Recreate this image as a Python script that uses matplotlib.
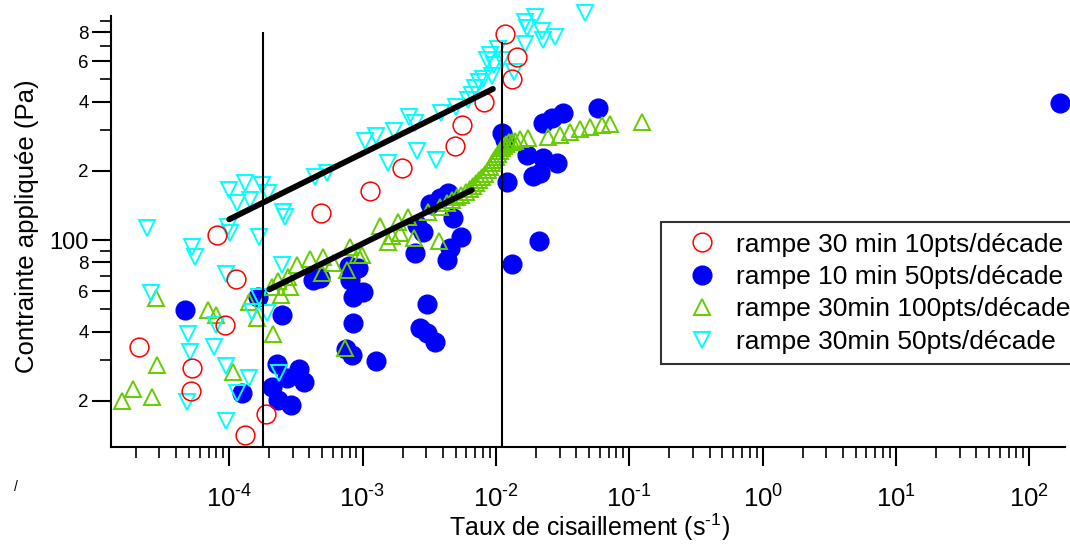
import numpy as np
import matplotlib
matplotlib.use('Agg')
import matplotlib.pyplot as plt
from matplotlib.ticker import (FixedLocator, FixedFormatter, LogLocator,
                               NullFormatter, FuncFormatter)

plt.rcParams['font.family'] = ['Liberation Sans', 'DejaVu Sans']
plt.rcParams['mathtext.fontset'] = 'custom'
plt.rcParams['mathtext.rm'] = 'Liberation Sans'
plt.rcParams['mathtext.it'] = 'Liberation Sans:italic'
plt.rcParams['mathtext.bf'] = 'Liberation Sans:bold'

# rampe 30 min 10pts/décade
red_x = [2.1e-5, 5.3e-5, 5.2e-5, 8.1e-5, 1.13e-4, 9.3e-5, 1.89e-4, 1.32e-4, 4.9e-4,
         1.14e-3, 1.98e-3, 4.94e-3, 5.58e-3, 8.2e-3, 1.17e-2, 1.44e-2, 1.32e-2]
red_y = [34.3, 27.8, 22.0, 105, 67.7, 42.7, 17.5, 14.2, 131,
         163, 206, 256, 316, 398, 787, 625, 501]

# rampe 10 min 50pts/décade
blue_x = [4.7e-5, 1.25e-4, 1.65e-4, 2.5e-4, 2.29e-4, 2.1e-4, 2.33e-4, 2.92e-4, 3.35e-4,
          3.65e-4, 2.72e-4, 4.26e-4, 4.81e-4, 8.07e-4, 8.51e-4, 8.51e-4, 7.54e-4, 8.36e-4,
          9.27e-4, 1.01e-3, 1.26e-3, 3.05e-3, 2.7e-3, 3.05e-3, 3.5e-3, 2.48e-3, 2.85e-3,
          2.57e-3, 4.78e-3, 5.48e-3, 4.54e-3, 4.31e-3, 3.21e-3, 3.82e-3, 4.38e-3, 1.11e-2,
          1.17e-2, 1.21e-2, 1.71e-2, 1.9e-2, 2.26e-2, 2.88e-2, 2.14e-2, 2.26e-2, 2.64e-2,
          3.19e-2, 5.83e-2, 2.11e-2, 1.32e-2, 1.7e2, 7.9e-4]
blue_y = [49.6, 21.6, 56.5, 47.2, 28.9, 23.0, 20.2, 19.2, 27.5,
          24.1, 25.1, 67.0, 68.4, 67.0, 56.5, 43.6, 33.6, 31.6,
          75.6, 59.4, 29.8, 52.7, 41.4, 39.4, 36.0, 87.8, 108,
          116, 125, 103, 92.3, 81.9, 143, 152, 160, 292,
          272, 179, 234, 190, 227, 216, 196, 323, 339,
          357, 375, 99, 78.7, 394, 77.1]

# rampe 30min 100pts/décade
green_x = [1.58e-5, 1.91e-5, 2.65e-5, 2.88e-5, 2.84e-5, 6.96e-5, 8.0e-5, 1.07e-4, 1.41e-4,
           1.62e-4, 2.14e-4, 2.1e-4, 2.45e-4, 2.33e-4, 2.77e-4, 3.23e-4, 2.87e-4, 4.05e-4,
           5.07e-4, 6.02e-4, 4.98e-4, 7.67e-4, 8.07e-4, 9.27e-4, 9.93e-4, 7.41e-4,
           1.36e-3, 1.56e-3, 1.67e-3, 1.85e-3, 2.2e-3, 1.91e-3, 2.44e-3, 3.75e-3, 3.1e-3,
           3.82e-3, 4.31e-3, 4.7e-3, 5.12e-3, 5.48e-3, 5.98e-3, 6.41e-3, 6.75e-3, 7.11e-3,
           7.48e-3, 7.88e-3, 8.3e-3, 8.74e-3, 9.05e-3, 9.37e-3, 9.7e-3, 1.0e-2, 1.04e-2,
           1.07e-2, 1.11e-2, 1.15e-2, 1.19e-2, 1.26e-2, 1.32e-2, 1.39e-2,
           1.52e-2, 1.74e-2, 2.46e-2, 3.03e-2, 3.6e-2, 4.28e-2, 5.08e-2, 6.25e-2, 7.18e-2,
           1.25e-1]
green_y = [20.0, 22.5, 20.8, 28.6, 56.0, 49.6, 47.2, 26.7, 53.8,
           45.8, 39.0, 62.5, 57.7, 66.3, 69.0, 77.9, 62.5, 82.6,
           84.4, 79.4, 71.9, 74.1, 93, 86.1, 86.1, 33.9,
           115, 98, 104, 120, 126, 107, 102, 99, 132,
           139, 145, 149, 154, 157, 162, 167, 172, 177,
           182, 188, 194, 201, 208, 216, 223, 230, 237,
           244, 251, 256, 261, 267, 267, 269,
           275, 278, 280, 286, 295, 304, 310, 316, 319,
           326]

# rampe 30min 50pts/décade
cyan_x = [2.4e-5, 5.3e-5, 5.5e-5, 2.6e-5, 4.9e-5, 5.1e-5, 4.8e-5, 7.7e-5, 9.5e-5,
          8.0e-5, 1.41e-4, 1.15e-4, 9.5e-5, 1.49e-4, 1.93e-4, 1.68e-4, 9.5e-5, 1.68e-4,
          0.98e-4, 1.02e-4, 2.37e-4, 2.5e-4, 2.54e-4, 2.63e-4, 1.0e-4, 1.32e-4, 1.77e-4,
          1.15e-4, 1.44e-4, 1.96e-4, 4.41e-4, 5.43e-4, 1.05e-3, 1.26e-3, 1.56e-3, 1.73e-3,
          2.24e-3, 2.48e-3, 2.57e-3, 3.56e-3, 3.88e-3, 5.03e-3, 6.63e-3, 6.98e-3, 7.48e-3,
          8.02e-3, 9.37e-3, 9.7e-3, 9.05e-3, 1.04e-2, 1.11e-2, 1.37e-2, 1.66e-2, 1.66e-2,
          1.97e-2, 1.71e-2, 2.22e-2, 2.26e-2, 2.78e-2, 4.67e-2, 6.19e-3, 8.59e-3]
cyan_y = [113, 93, 84, 59, 39, 32.6, 19.8, 34.3, 28.3,
          42.7, 25.1, 21.6, 16.3, 48.6, 48.1, 56.5, 71.1, 103,
          114, 107, 26.4, 77.9, 132, 126, 165, 177, 173,
          145, 149, 160, 188, 196, 269, 283, 216, 298,
          343, 323, 244, 223, 357, 379, 427, 458, 486,
          501, 517, 577, 637, 677, 606, 538, 711, 887,
          932, 835, 811, 741, 763, 970, 406, 606]

# power-law fits and the two limits of the fitted range
fit_hi_x = [1.0e-4, 9.5e-3]
fit_hi_y = [123, 454]
fit_lo_x = [2.0e-4, 6.6e-3]
fit_lo_y = [61, 165]
vline_x = [1.8e-4, 1.11e-2]
vline_top = [800, 726]

x_decades = [1e-4, 1e-3, 1e-2, 1e-1, 1e0, 1e1, 1e2]
labels = ['rampe 30 min 10pts/décade', 'rampe 10 min 50pts/décade',
          'rampe 30min 100pts/décade', 'rampe 30min 50pts/décade']

W, H = 1070, 544
fig = plt.figure(figsize=(W / 100, H / 100), dpi=100)
ax = fig.add_axes([111 / W, 1 - 447 / H, (1065 - 111) / W, (447 - 16) / H])
ax.set_xscale('log')
ax.set_yscale('log')
ax.set_xlim(1.3e-5, 185)
ax.set_ylim(12.6, 942)

ax.plot(blue_x, blue_y, ls='none', marker='o', ms=13.5, mfc='#0000ff', mec='#0000ff',
        label=labels[1], clip_on=False, zorder=2)
ax.plot(green_x, green_y, ls='none', marker='^', ms=11, mfc='none', mec='#66cc00',
        mew=1.4, label=labels[2], clip_on=False, zorder=3)
ax.plot(cyan_x, cyan_y, ls='none', marker='v', ms=11, mfc='none', mec='#00ffff',
        mew=1.4, label=labels[3], clip_on=False, zorder=4)
ax.plot(red_x, red_y, ls='none', marker='o', ms=13.5, mfc='none', mec='#ff0000',
        mew=1.1, label=labels[0], clip_on=False, zorder=5)

ax.plot(fit_hi_x, fit_hi_y, color='black', lw=4.2, solid_capstyle='round', zorder=6)
ax.plot(fit_lo_x, fit_lo_y, color='black', lw=4.2, solid_capstyle='round', zorder=6)
ax.vlines(vline_x, 12.6, vline_top, color='black', lw=1.5, zorder=6)

for s in ['top', 'right']:
    ax.spines[s].set_visible(False)
for s in ['left', 'bottom']:
    ax.spines[s].set_linewidth(1.5)


def decade(v, pos):
    # 10 with a plain hyphen in the exponent, as in the original figure
    e = int(round(np.log10(v)))
    return '$\\mathdefault{10^{%s}}$' % (str(e).replace('-', '\u2010'))


ax.xaxis.set_major_locator(FixedLocator(x_decades))
ax.xaxis.set_minor_locator(LogLocator(base=10, subs=np.arange(2, 10), numticks=20))
ax.xaxis.set_major_formatter(FuncFormatter(decade))
ax.xaxis.set_minor_formatter(NullFormatter())
ax.tick_params(axis='x', which='major', length=14, width=1.5, labelsize=18.5, pad=14)
ax.tick_params(axis='x', which='minor', length=8, width=1.2)

ax.yaxis.set_major_locator(FixedLocator([20, 40, 60, 80, 100, 200, 400, 600, 800]))
ax.yaxis.set_major_formatter(FixedFormatter(['2', '4', '6', '8', '100', '2', '4', '6', '8']))
ax.yaxis.set_minor_locator(FixedLocator([30, 50, 70, 90, 300, 500, 700, 900]))
ax.yaxis.set_minor_formatter(NullFormatter())
ax.tick_params(axis='y', which='major', length=14, width=1.5, labelsize=13.5, pad=2)
ax.tick_params(axis='y', which='minor', length=8, width=1.2)
for lbl in ax.get_yticklabels():
    if lbl.get_text() == '100':
        lbl.set_fontsize(17)

fig.text(590 / W, 1 - 536 / H, 'Taux de cisaillement (s$^{\u20101}$)', fontsize=18,
         ha='center', va='baseline')
fig.text(27 / W, 1 - 226 / H, 'Contrainte appliquée (Pa)', fontsize=18.5,
         rotation=90, ha='center', va='center')
fig.text(16 / W, 1 - 487 / H, '/', fontsize=10, ha='center', va='center')

h, l = ax.get_legend_handles_labels()
order = [l.index(t) for t in labels]
leg = ax.legend([h[i] for i in order], [l[i] for i in order], loc='upper left',
                bbox_to_anchor=(661 / W, 1 - 222 / H), bbox_transform=fig.transFigure,
                fontsize=19, frameon=True, fancybox=False, edgecolor='black',
                borderpad=0.4, labelspacing=0.32, handlelength=2.3, handletextpad=0.15,
                borderaxespad=0, numpoints=1)
leg.get_frame().set_linewidth(1.5)

fig.savefig('out.png', dpi=100)
